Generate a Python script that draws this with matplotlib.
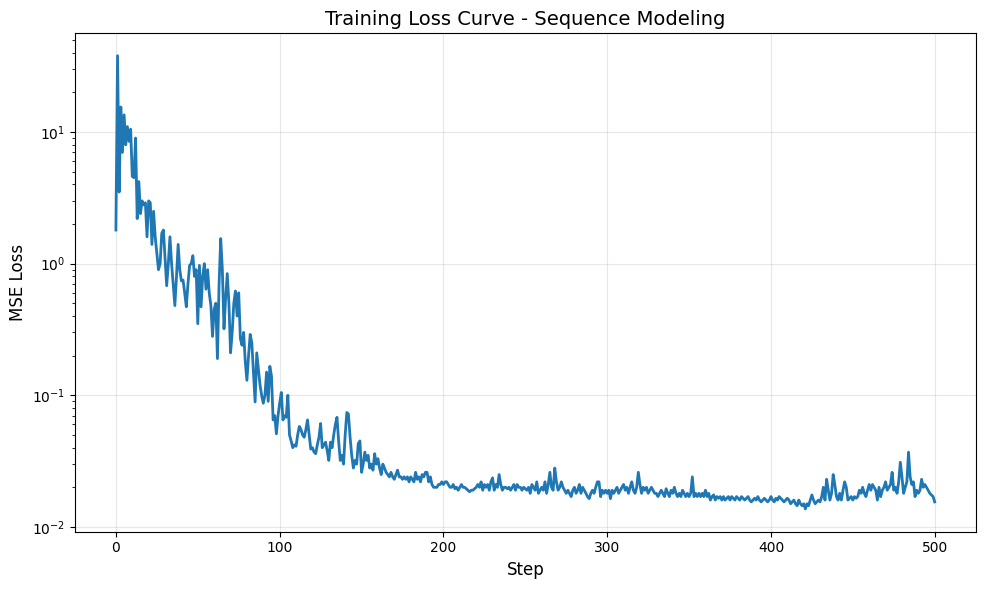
import matplotlib
matplotlib.use("Agg")
import matplotlib.pyplot as plt
import numpy as np

loss_000_099 = [
    1.8, 38, 3.5, 15.5, 7.0, 13.5, 8.0, 11.0, 8.5, 10.5,
    4.6, 4.5, 9.0, 2.2, 4.2, 2.4, 3.0, 2.8, 2.9, 1.6,
    3.0, 2.9, 1.4, 2.5, 1.6, 1.2, 0.9, 1.0, 1.7, 1.8,
    1.1, 0.68, 1.0, 1.6, 1.0, 0.7, 0.48, 0.8, 1.4, 0.9,
    0.74, 0.75, 0.6, 0.47, 0.7, 0.97, 1.0, 1.15, 0.8, 0.9,
    0.35, 0.97, 0.47, 0.8, 1.0, 0.64, 0.9, 0.6, 0.48, 0.28,
    0.45, 0.5, 0.19, 0.7, 1.55, 0.9, 0.32, 0.55, 0.84, 0.5,
    0.21, 0.3, 0.5, 0.62, 0.4, 0.6, 0.27, 0.24, 0.3, 0.18,
    0.13, 0.2, 0.29, 0.25, 0.15, 0.089, 0.21, 0.16, 0.12, 0.1,
    0.087, 0.1, 0.15, 0.09, 0.166, 0.14, 0.065, 0.07, 0.051, 0.07,
]
loss_100_199 = [
    0.087, 0.105, 0.065, 0.07, 0.068, 0.1, 0.05, 0.045, 0.04, 0.042,
    0.041, 0.05, 0.058, 0.055, 0.05, 0.048, 0.055, 0.065, 0.05, 0.039,
    0.04, 0.037, 0.036, 0.042, 0.048, 0.061, 0.04, 0.042, 0.044, 0.038,
    0.032, 0.044, 0.04, 0.05, 0.06, 0.068, 0.045, 0.032, 0.035, 0.03,
    0.05, 0.074, 0.072, 0.048, 0.035, 0.028, 0.032, 0.03, 0.043, 0.045,
    0.026, 0.03, 0.037, 0.032, 0.035, 0.028, 0.03, 0.027, 0.036, 0.03,
    0.033, 0.028, 0.025, 0.03, 0.028, 0.026, 0.025, 0.024, 0.026, 0.024,
    0.023, 0.025, 0.027, 0.024, 0.024, 0.023, 0.024, 0.023, 0.024, 0.022,
    0.024, 0.023, 0.022, 0.026, 0.023, 0.024, 0.022, 0.025, 0.024, 0.026,
    0.026, 0.022, 0.024, 0.021, 0.02, 0.02, 0.02, 0.021, 0.021, 0.022,
]
loss_200_299 = [
    0.021, 0.022, 0.022, 0.021, 0.02, 0.02, 0.021, 0.0195, 0.02, 0.019,
    0.02, 0.021, 0.02, 0.02, 0.0195, 0.019, 0.0185, 0.019, 0.019, 0.0195,
    0.02, 0.021, 0.02, 0.022, 0.019, 0.021, 0.02, 0.021, 0.019, 0.022,
    0.0236, 0.019, 0.021, 0.02, 0.025, 0.021, 0.019, 0.02, 0.02, 0.0195,
    0.02, 0.019, 0.02, 0.021, 0.019, 0.021, 0.02, 0.02, 0.019, 0.02,
    0.0195, 0.019, 0.02, 0.018, 0.021, 0.02, 0.019, 0.022, 0.018, 0.019,
    0.02, 0.019, 0.022, 0.018, 0.021, 0.026, 0.02, 0.019, 0.028, 0.022,
    0.019, 0.02, 0.022, 0.02, 0.019, 0.018, 0.019, 0.018, 0.017, 0.019,
    0.02, 0.018, 0.019, 0.021, 0.018, 0.02, 0.019, 0.018, 0.017, 0.0164,
    0.018, 0.019, 0.018, 0.02, 0.022, 0.022, 0.017, 0.019, 0.018, 0.019,
]
loss_300_399 = [
    0.018, 0.019, 0.0164, 0.019, 0.018, 0.019, 0.02, 0.018, 0.019, 0.02,
    0.021, 0.019, 0.02, 0.018, 0.02, 0.022, 0.019, 0.018, 0.02, 0.026,
    0.021, 0.018, 0.02, 0.019, 0.02, 0.018, 0.019, 0.02, 0.019, 0.018,
    0.018, 0.017, 0.018, 0.019, 0.018, 0.017, 0.0195, 0.018, 0.017, 0.019,
    0.018, 0.02, 0.018, 0.017, 0.018, 0.017, 0.019, 0.018, 0.017, 0.018,
    0.017, 0.018, 0.024, 0.017, 0.018, 0.017, 0.018, 0.017, 0.018, 0.017,
    0.019, 0.017, 0.018, 0.016, 0.017, 0.0175, 0.016, 0.017, 0.0165, 0.017,
    0.016, 0.017, 0.016, 0.0165, 0.017, 0.016, 0.017, 0.0165, 0.016, 0.017,
    0.0165, 0.016, 0.017, 0.0165, 0.016, 0.0165, 0.017, 0.016, 0.0155, 0.016,
    0.0165, 0.016, 0.017, 0.016, 0.0155, 0.016, 0.0165, 0.016, 0.0155, 0.016,
]
loss_400_500 = [
    0.017, 0.016, 0.0155, 0.0165, 0.016, 0.017, 0.0165, 0.016, 0.0155, 0.016,
    0.0165, 0.016, 0.015, 0.0155, 0.016, 0.015, 0.0145, 0.016, 0.015, 0.0145,
    0.015, 0.0137, 0.015, 0.0145, 0.016, 0.0175, 0.016, 0.015, 0.0155, 0.016,
    0.0155, 0.017, 0.02, 0.016, 0.023, 0.019, 0.016, 0.018, 0.025, 0.021,
    0.017, 0.016, 0.018, 0.016, 0.019, 0.022, 0.02, 0.016, 0.0165, 0.017,
    0.016, 0.017, 0.0165, 0.017, 0.019, 0.018, 0.02, 0.018, 0.017, 0.019,
    0.021, 0.019, 0.021, 0.02, 0.019, 0.016, 0.02, 0.017, 0.019, 0.02,
    0.022, 0.019, 0.02, 0.021, 0.026, 0.019, 0.02, 0.018, 0.022, 0.031,
    0.024, 0.018, 0.02, 0.022, 0.037, 0.024, 0.021, 0.022, 0.017, 0.019,
    0.018, 0.019, 0.023, 0.02, 0.021, 0.02, 0.019, 0.018, 0.0175, 0.017,
    0.0155,
]

loss = loss_000_099 + loss_100_199 + loss_200_299 + loss_300_399 + loss_400_500
steps = np.arange(len(loss))

fig, ax = plt.subplots(figsize=(9.89, 5.9), dpi=100)
ax.plot(steps, loss, color="#1f77b4", linewidth=2)
ax.set_yscale("log")
ax.set_xlabel("Step", fontsize=12)
ax.set_ylabel("MSE Loss", fontsize=12)
ax.set_title("Training Loss Curve - Sequence Modeling", fontsize=14)
ax.grid(True, alpha=0.3)
fig.subplots_adjust(left=0.0758, right=0.9865, top=0.944, bottom=0.099)
fig.savefig("out.png", dpi=100)
